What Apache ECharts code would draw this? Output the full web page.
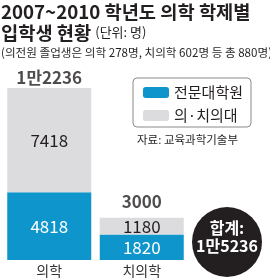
<!DOCTYPE html>
<html><head><meta charset="utf-8">
<script src="https://cdn.jsdelivr.net/npm/echarts@6/dist/echarts.min.js"></script>
<style>html,body{margin:0;padding:0;background:#fff}#c{width:270px;height:280px}</style>
</head><body><div id="c"></div>
<script>
var categories = ['의학', '치의학'];
var gradSchool = [4818, 1820];
var medSchool = [7418, 1180];
var totals = [12236, 3000];
var totalLabels = ['1만2236', '3000'];
var seriesNames = ['전문대학원', '의·치의대'];

var FONT = '"Noto Sans CJK KR", "Noto Sans", sans-serif';
var labelGaps = [2, 8];
var chart = echarts.init(document.getElementById('c'), null, {renderer: 'canvas'});
chart.setOption({
  animation: false,
  textStyle: {fontFamily: FONT},
  title: {
    left: 1, top: 1, padding: 0,
    text: '{a|2007~2010 학년도 의학 학제별}\n{a|입학생 현황} {b|(단위: 명)}\n{c|(의전원 졸업생은 의학 278명, 치의학 602명 등 총 880명)}',
    textStyle: {
      fontWeight: 'normal',
      rich: {
        a: {fontSize: 18.7, fontWeight: 'bold', color: '#231f20', fontFamily: FONT, lineHeight: 21},
        b: {fontSize: 13, fontWeight: 'normal', color: '#231f20', fontFamily: FONT, lineHeight: 21},
        c: {fontSize: 11.6, fontWeight: 'normal', color: '#231f20', fontFamily: FONT, lineHeight: 20}
      }
    }
  },
  legend: {
    orient: 'vertical', left: 133, top: 78,
    borderColor: '#8a8a8a', borderWidth: 1, borderRadius: 4,
    padding: [7, 8, 4, 10], itemGap: 8, itemWidth: 26, itemHeight: 11,
    textStyle: {fontSize: 15, lineHeight: 15, color: '#231f20', fontFamily: FONT},
    data: seriesNames
  },
  grid: {left: 3, right: 82, top: 88, bottom: 20},
  xAxis: {
    type: 'category', data: categories,
    axisLine: {show: false}, axisTick: {show: false},
    axisLabel: {fontSize: 14, color: '#333', margin: 4, fontFamily: FONT}
  },
  yAxis: {type: 'value', min: 0, max: 12236, show: false, splitLine: {show: false}},
  series: [
    {name: seriesNames[0], type: 'bar', stack: 's', barWidth: 84, data: gradSchool,
     itemStyle: {color: '#0e96cc'},
     label: {show: true, position: 'inside', color: '#fff', fontSize: 17, fontFamily: FONT}},
    {name: seriesNames[1], type: 'bar', stack: 's', barWidth: 84, data: medSchool,
     itemStyle: {color: '#dcdcde'},
     label: {show: true, position: 'inside', color: '#231f20', fontSize: 17, fontFamily: FONT}},
    {name: 'total', type: 'scatter', symbolSize: 0, silent: true,
     data: totals.map(function (v, i) { return {value: v, label: {distance: labelGaps[i]}}; }),
     label: {show: true, position: 'top', fontSize: 17, fontWeight: 'bold', color: '#231f20',
       fontFamily: FONT, formatter: function (p) { return totalLabels[p.dataIndex]; }}}
  ],
  graphic: [
    {type: 'text', left: 137, top: 134,
     style: {text: '자료: 교육과학기술부', fill: '#231f20', font: '11.5px ' + FONT}},
    {type: 'circle', shape: {cx: 227, cy: 242, r: 35}, style: {fill: '#231f20'}},
    {type: 'text', x: 227, y: 228,
     style: {text: '합계:', fill: '#fff', font: 'bold 16px ' + FONT, align: 'center', verticalAlign: 'middle'}},
    {type: 'text', x: 227, y: 246,
     style: {text: '1만5236', fill: '#fff', font: 'bold 16px ' + FONT, align: 'center', verticalAlign: 'middle'}}
  ]
});
</script></body></html>
